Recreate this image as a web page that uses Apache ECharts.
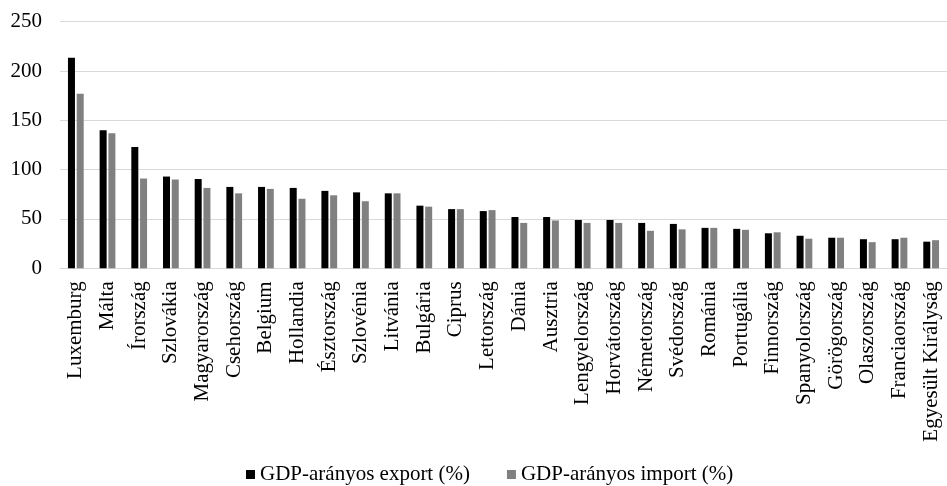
<!DOCTYPE html>
<html>
<head>
<meta charset="utf-8">
<script src="https://cdn.jsdelivr.net/npm/echarts@6/dist/echarts.min.js"></script>
<style>
html,body{margin:0;padding:0;background:#fff;}
#chart{width:947px;height:486px;}
</style>
</head>
<body>
<div id="chart"></div>
<script>
const categories = ["Luxemburg","Málta","Írország","Szlovákia","Magyarország","Csehország","Belgium","Hollandia","Észtország","Szlovénia","Litvánia","Bulgária","Ciprus","Lettország","Dánia","Ausztria","Lengyelország","Horvátország","Németország","Svédország","Románia","Portugália","Finnország","Spanyolország","Görögország","Olaszország","Franciaország","Egyesült Királyság"];
const exportValues = [213.5,140,123,93,90.5,82.5,82.5,81.5,78.5,77,76,63.5,60,58,52,52,49,49,46,45,41,40,35.5,33,31,29.5,29.5,27];
const importValues = [177,137,91,90,81.5,76,80.5,70.5,74,68,76,62.5,60,59,46,48.5,46,46,38,39.5,41,39,36.5,30,31,26.5,31,28.5];
const seriesNames = ["GDP-arányos export (%)","GDP-arányos import (%)"];
const yTicks = [0,50,100,150,200,250];

const font = "Liberation Serif";
const chart = echarts.init(document.getElementById('chart'), null, {renderer:'canvas'});
chart.setOption({
  animation:false,
  backgroundColor:'#fff',
  textStyle:{fontFamily:font},
  grid:{left:60, top:21.7, width:890, height:246.6, containLabel:false},
  legend:{
    left:246, top:464, padding:0,
    itemWidth:9, itemHeight:9, itemGap:37,
    icon:'rect',
    textStyle:{fontFamily:font, fontSize:21, color:'#000'},
    data:seriesNames
  },
  xAxis:{
    type:'category',
    data:categories,
    axisLine:{show:true, lineStyle:{color:'#d9d9d9', width:1}},
    axisTick:{show:false},
    axisLabel:{rotate:90, margin:13, interval:0, fontFamily:font, fontSize:21, color:'#000'}
  },
  yAxis:{
    type:'value',
    min:yTicks[0], max:yTicks[yTicks.length-1], interval:50,
    axisLine:{show:false},
    axisTick:{show:false},
    splitLine:{lineStyle:{color:'#d9d9d9', width:1}},
    axisLabel:{margin:18, fontFamily:font, fontSize:21, color:'#000'}
  },
  series:[
    {name:seriesNames[0], type:'bar', data:exportValues, barWidth:7, barGap:'25%', itemStyle:{color:'#000000'}},
    {name:seriesNames[1], type:'bar', data:importValues, barWidth:7, barGap:'25%', itemStyle:{color:'#808080'}}
  ]
});
</script>
</body>
</html>
